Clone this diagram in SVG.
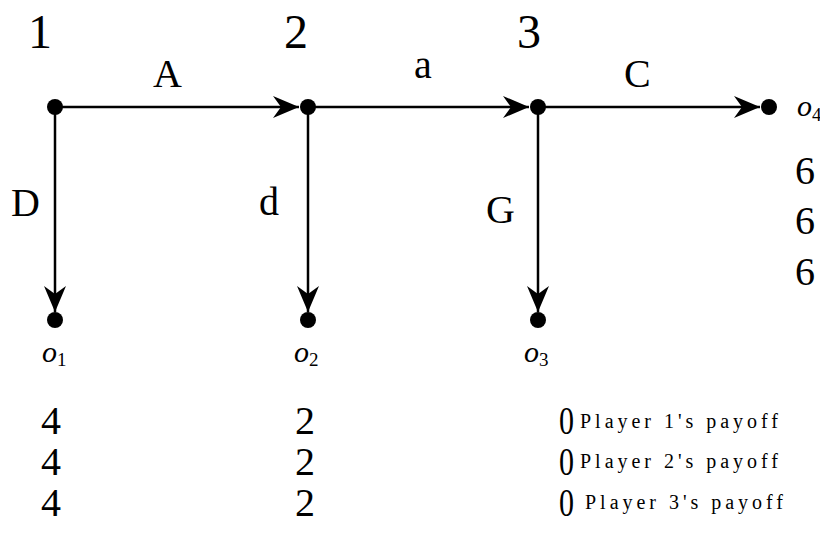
<svg xmlns="http://www.w3.org/2000/svg" width="820" height="539" viewBox="0 0 820 539" font-family="'Liberation Serif', 'Times New Roman', serif">
<defs>
<marker id="arr" markerUnits="userSpaceOnUse" markerWidth="30" markerHeight="24" viewBox="-27 -12 30 24" refX="0" refY="0" orient="auto">
<path d="M0,0 L-26,-11 L-18,0 L-26,11 Z" fill="#000"/>
</marker>
</defs>
<style>
text{font-family:'Liberation Serif','Times New Roman',serif;fill:#000}
.big{font-size:48px}
.lab{font-size:40px}
.num{font-size:40px}
.o{font-size:30px;font-style:italic}
.sub{font-size:19px;font-style:normal}
.pl{font-size:20px}
.e{stroke:#000;stroke-width:2.5;fill:none}
.dot{fill:#000}
</style>
<rect width="820" height="539" fill="#fff"/>
<g id="connectors">
<line class="e" x1="55" y1="107" x2="299" y2="107" marker-end="url(#arr)"/>
<line class="e" x1="308" y1="107" x2="529" y2="107" marker-end="url(#arr)"/>
<line class="e" x1="538" y1="107" x2="760" y2="107" marker-end="url(#arr)"/>
<line class="e" x1="55" y1="107" x2="55" y2="312" marker-end="url(#arr)"/>
<line class="e" x1="308" y1="107" x2="308" y2="312" marker-end="url(#arr)"/>
<line class="e" x1="538" y1="107" x2="538" y2="312" marker-end="url(#arr)"/>
<text class="lab" x="153" y="87">A</text>
<text class="lab" x="414" y="78">a</text>
<text class="lab" x="624" y="87">C</text>
<text class="lab" x="11" y="216">D</text>
<text class="lab" x="259" y="215">d</text>
<text class="lab" x="486" y="223">G</text>
</g>
<g id="node1">
<circle class="dot" cx="55" cy="107" r="8"/>
<text class="big" x="28" y="48">1</text>
</g>
<g id="node2">
<circle class="dot" cx="308" cy="107" r="8"/>
<text class="big" x="284" y="48">2</text>
</g>
<g id="node3">
<circle class="dot" cx="538" cy="107" r="8"/>
<text class="big" x="517" y="48">3</text>
</g>
<g id="o4">
<circle class="dot" cx="769" cy="107" r="8"/>
<text class="o" x="797" y="116">o<tspan class="sub" dy="5">4</tspan></text>
<text class="num" x="795" y="184">6</text>
<text class="num" x="795" y="234">6</text>
<text class="num" x="795" y="285">6</text>
</g>
<g id="o1">
<circle class="dot" cx="55" cy="320" r="8"/>
<text class="o" x="42" y="362">o<tspan class="sub" dy="4">1</tspan></text>
<text class="num" x="41" y="434">4</text>
<text class="num" x="41" y="475">4</text>
<text class="num" x="41" y="516">4</text>
</g>
<g id="o2">
<circle class="dot" cx="308" cy="320" r="8"/>
<text class="o" x="294" y="362">o<tspan class="sub" dy="4">2</tspan></text>
<text class="num" x="295" y="434">2</text>
<text class="num" x="295" y="475">2</text>
<text class="num" x="295" y="516">2</text>
</g>
<g id="o3">
<circle class="dot" cx="538" cy="320" r="8"/>
<text class="o" x="524" y="362">o<tspan class="sub" dy="4">3</tspan></text>
<text class="num" x="559" y="434" textLength="15" lengthAdjust="spacingAndGlyphs">0</text>
<text class="num" x="559" y="475" textLength="15" lengthAdjust="spacingAndGlyphs">0</text>
<text class="num" x="559" y="516" textLength="15" lengthAdjust="spacingAndGlyphs">0</text>
<text class="pl" x="580" y="428" textLength="198" lengthAdjust="spacing">Player 1's payoff</text>
<text class="pl" x="580" y="468" textLength="198" lengthAdjust="spacing">Player 2's payoff</text>
<text class="pl" x="585" y="509" textLength="198" lengthAdjust="spacing">Player 3's payoff</text>
</g>
</svg>
